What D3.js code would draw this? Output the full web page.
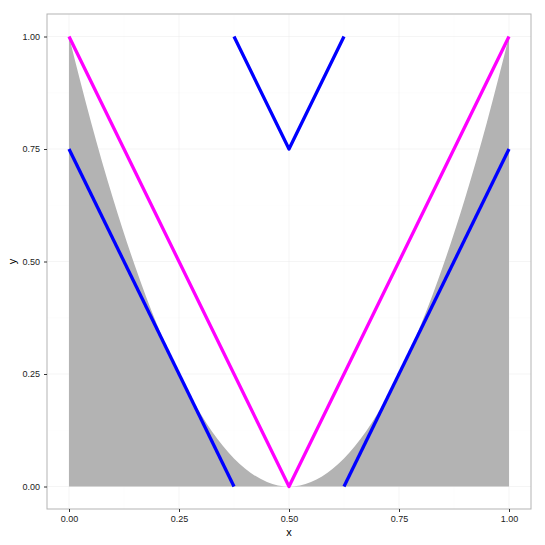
<!DOCTYPE html>
<html><head><meta charset="utf-8">
<script src="https://cdn.jsdelivr.net/npm/d3@7"></script>
<style>body{margin:0;background:#fff}</style>
</head><body>
<svg id="c" width="545" height="545"></svg>
<script>
// Area (shaded curve) points
const areaX = [0,0.05,0.1,0.15,0.2,0.25,0.3,0.35,0.4,0.45,0.5,0.55,0.6,0.65,0.7,0.75,0.8,0.85,0.9,0.95,1];
const areaY = [1,0.81,0.64,0.49,0.36,0.25,0.16,0.09,0.04,0.01,0,0.01,0.04,0.09,0.16,0.25,0.36,0.49,0.64,0.81,1];
// Magenta V
const magX = [0,0.5,1];
const magY = [1,0,1];
// Blue segments
const blueLeftX = [0,0.375];
const blueLeftY = [0.75,0];
const blueRightX = [0.625,1];
const blueRightY = [0,0.75];
const blueTopX = [0.375,0.5,0.625];
const blueTopY = [1,0.75,1];
const tickVals = [0,0.25,0.5,0.75,1];
const tickLabels = ["0.00","0.25","0.50","0.75","1.00"];

const svg = d3.select("#c");
const L=47, R=531, T=14, B=509;
const x = d3.scaleLinear().domain([-0.05,1.05]).range([L,R]);
const y = d3.scaleLinear().domain([-0.05,1.05]).range([B,T]);

// grid
const g = svg.append("g");
const minor = [0.125,0.375,0.625,0.875];
minor.forEach(v=>{
  g.append("line").attr("x1",x(v)).attr("x2",x(v)).attr("y1",T).attr("y2",B).attr("stroke","#fafafa").attr("stroke-width",0.5);
  g.append("line").attr("y1",y(v)).attr("y2",y(v)).attr("x1",L).attr("x2",R).attr("stroke","#fafafa").attr("stroke-width",0.5);
});
tickVals.forEach(v=>{
  g.append("line").attr("x1",x(v)).attr("x2",x(v)).attr("y1",T).attr("y2",B).attr("stroke","#ebebeb").attr("stroke-width",0.5);
  g.append("line").attr("y1",y(v)).attr("y2",y(v)).attr("x1",L).attr("x2",R).attr("stroke","#ebebeb").attr("stroke-width",0.5);
});

const pts = (xs,ys)=>xs.map((v,i)=>[v,ys[i]]);
const area = d3.area().x(d=>x(d[0])).y0(y(0)).y1(d=>y(d[1])).curve(d3.curveMonotoneX);
svg.append("path").datum(pts(areaX,areaY)).attr("d",area).attr("fill","#b3b3b3");

const line = d3.line().x(d=>x(d[0])).y(d=>y(d[1]));
[[magX,magY,"#ff00ff"],[blueLeftX,blueLeftY,"#0000ff"],[blueRightX,blueRightY,"#0000ff"],[blueTopX,blueTopY,"#0000ff"]].forEach(([xs,ys,c])=>{
  svg.append("path").datum(pts(xs,ys)).attr("d",line).attr("fill","none").attr("stroke",c).attr("stroke-width",3.3).attr("stroke-linejoin","round").attr("stroke-linecap","butt");
});

svg.append("rect").attr("x",L).attr("y",T).attr("width",R-L).attr("height",B-T).attr("fill","none").attr("stroke","#b3b3b3").attr("stroke-width",1);

const xa = svg.append("g").attr("transform",`translate(0,${B})`)
  .call(d3.axisBottom(x).tickValues(tickVals).tickFormat((d,i)=>tickLabels[i]).tickSize(3).tickPadding(4));
const ya = svg.append("g").attr("transform",`translate(${L},0)`)
  .call(d3.axisLeft(y).tickValues(tickVals).tickFormat((d,i)=>tickLabels[i]).tickSize(3).tickPadding(4));
[xa,ya].forEach(a=>{
  a.select(".domain").remove();
  a.selectAll(".tick line").attr("stroke","#333");
  a.selectAll("text").attr("fill","#222").style("font-family","Liberation Sans, Arial, sans-serif").style("font-size","9px");
});
svg.append("text").attr("x",(L+R)/2).attr("y",536).attr("text-anchor","middle").style("font-family","Liberation Sans, Arial, sans-serif").style("font-size","11px").text("x");
svg.append("text").attr("transform",`translate(16,${(T+B)/2}) rotate(-90)`).attr("text-anchor","middle").style("font-family","Liberation Sans, Arial, sans-serif").style("font-size","11px").text("y");
</script>
</body></html>
